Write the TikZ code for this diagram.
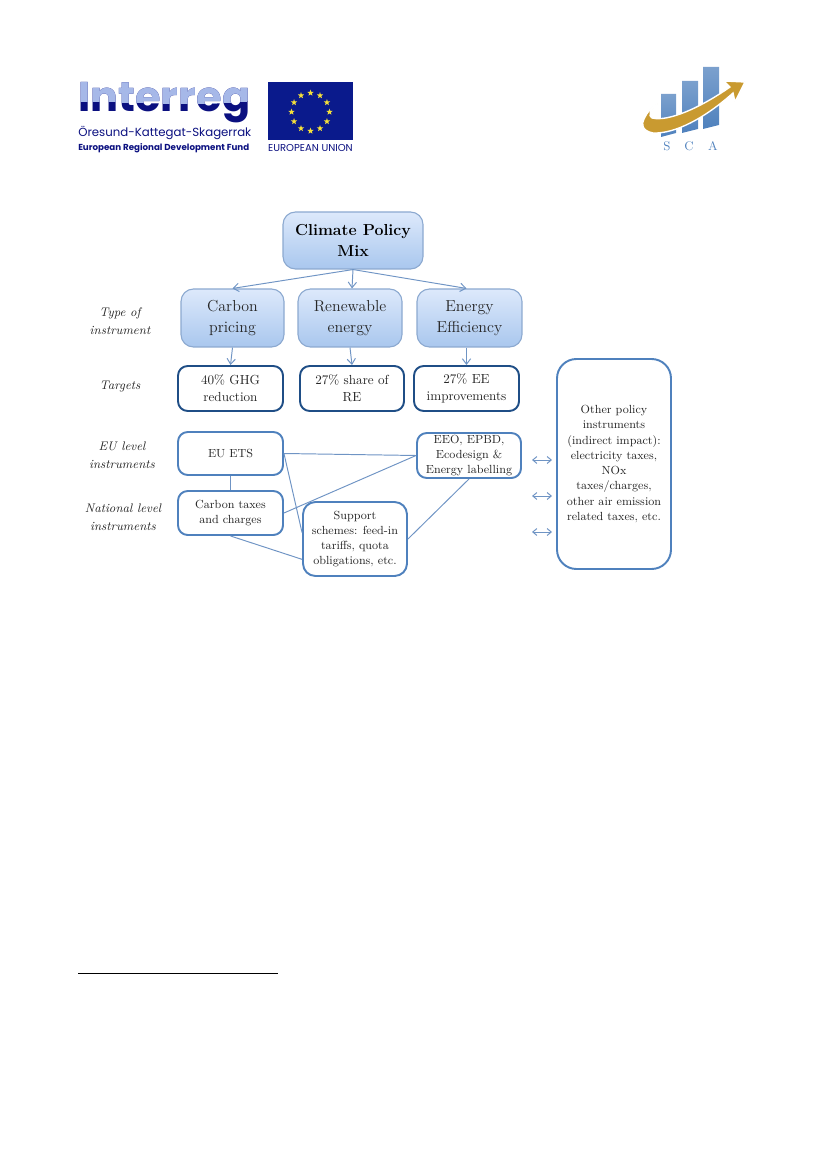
\documentclass[tikz,border=0pt]{standalone}
\usepackage{fontspec}
\usetikzlibrary{shapes.geometric,arrows.meta}
\newfontfamily\logofont{Poppins}
\definecolor{darkblue}{HTML}{0B1080}
\definecolor{lightblue}{HTML}{A6B8E8}
\definecolor{flagblue}{HTML}{0A1A8C}
\definecolor{flagstar}{HTML}{F5E03A}
\definecolor{goldswoosh}{HTML}{C99A30}
\definecolor{linkblue}{HTML}{6F94C4}
\definecolor{boxline}{HTML}{4F81BD}
\definecolor{targetline}{HTML}{1F4E86}
\definecolor{shadetop}{HTML}{DDE9FB}
\definecolor{shadebottom}{HTML}{A9C7EE}
\tikzset{
  boxsize/.style 2 args={minimum width=#1*0.254mm,minimum height=#2*0.254mm},
  typebox/.style={draw=linkblue!80,line width=0.8pt,rounded corners=9pt,top color=shadetop,bottom color=shadebottom,
    align=center,inner sep=0pt,text=black!85,font=\fontsize{11.5}{15}\selectfont},
  targetbox/.style={draw=targetline,line width=1.4pt,rounded corners=7pt,fill=white,align=center,inner sep=0pt,
    text=black!85,font=\fontsize{9.5}{12.4}\selectfont},
  levelbox/.style={draw=boxline,line width=1.4pt,rounded corners=7pt,fill=white,align=center,inner sep=0pt,
    text=black!85,font=\fontsize{8.5}{11}\selectfont},
  sidelabel/.style={align=center,font=\fontsize{9}{13}\selectfont\itshape,text=black!85},
  link/.style={draw=linkblue,line width=0.7pt},
  pointer/.style={link,->,>={Straight Barb[length=4pt,width=6pt]}},
  bothways/.style={link,<->,>={Straight Barb[length=3pt,width=5pt]}},
  flagstarnode/.style={star,star points=5,star point ratio=2.4,fill=flagstar,inner sep=0pt,minimum size=4.8pt},
}
\begin{document}
\begin{tikzpicture}[x=0.254mm,y=-0.254mm]
\useasboundingbox (0,0) rectangle (827,1169);
% interreg logo
\draw (78,103) node[anchor=west,inner sep=0pt,text=darkblue,font=\fontsize{30}{30}\logofont\bfseries] (interreg) {Interreg};
\begin{scope}
\clip (70,75) -- (260,75) -- (260,99) .. controls (210,108) and (130,100) .. (70,102) -- cycle;
\draw (78,103) node[anchor=west,inner sep=0pt,text=lightblue,font=\fontsize{30}{30}\logofont\bfseries] (interregtop) {Interreg};
\end{scope}
\draw (78,133) node[anchor=west,inner sep=0pt,text=darkblue,font=\fontsize{8.5}{9}\logofont] (oresund) {Öresund-Kattegat-Skagerrak};
\draw (78,148) node[anchor=west,inner sep=0pt,text=darkblue,font=\fontsize{6.3}{7}\logofont\bfseries] (erdf) {European Regional Development Fund};
% flag
\fill[flagblue] (268,82) rectangle (353,140);
\foreach \i in {1,...,12}
  \draw (310.5,112)+({\i*30}:19) node[flagstarnode] (flagstar\i) {};
\draw (310.5,148) node[inner sep=0pt,text=darkblue,font=\fontsize{7.25}{8}\logofont] (eulabel) {EUROPEAN UNION};
% sca logo
\shade[top color=boxline!75,bottom color=boxline] (661,94) -- (676,94) -- (676,133) -- (661,137) -- cycle;
\shade[top color=boxline!75,bottom color=boxline] (682,81) -- (698,81) -- (698,129) -- (682,133) -- cycle;
\shade[top color=boxline!75,bottom color=boxline] (703,67) -- (719,67) -- (719,125) -- (703,129) -- cycle;
\draw[white,line width=1pt,fill=goldswoosh] (657,104) .. controls (650,110) and (648,116) .. (652,118)
  .. controls (668,122) and (700,108) .. (730,87) -- (724,81) -- (745,82) -- (735,102) -- (733,93)
  .. controls (705,118) and (675,134) .. (653,133) .. controls (642,131) and (641,124) .. (644,119)
  .. controls (647,112) and (652,107) .. (657,104) -- cycle;
\draw (667,146) node[text=boxline,inner sep=0pt,font=\fontsize{9}{9}\selectfont] (scas) {S};
\draw (689,146) node[text=boxline,inner sep=0pt,font=\fontsize{9}{9}\selectfont] (scac) {C};
\draw (713,146) node[text=boxline,inner sep=0pt,font=\fontsize{9}{9}\selectfont] (scaa) {A};
% top boxes
\draw (353,240.5) node[typebox,boxsize={140}{57},text=black,font=\fontsize{11.5}{15.4}\selectfont\bfseries] (climate) {Climate Policy\\Mix};
\draw (232.5,318) node[typebox,boxsize={103}{58}] (carbon) {Carbon\\pricing};
\draw (350,318) node[typebox,boxsize={104}{58}] (renewable) {Renewable\\energy};
\draw (469.5,318) node[typebox,boxsize={105}{58}] (efficiency) {Energy\\Efficiency};
% targets
\draw (230.5,388.5) node[targetbox,boxsize={105}{45}] (ghg) {40\% GHG\\reduction};
\draw (352,388.5) node[targetbox,boxsize={104}{45}] (share) {27\% share of\\RE};
\draw (466.5,388.5) node[targetbox,boxsize={105}{45}] (improve) {27\% EE\\improvements};
% instruments
\draw (230.5,453.5) node[levelbox,boxsize={105}{43}] (ets) {EU ETS};
\draw (469,455.5) node[levelbox,boxsize={104}{45}] (eeo) {EEO, EPBD,\\Ecodesign \&\\Energy labelling};
\draw (230.5,513) node[levelbox,boxsize={105}{44}] (taxes) {Carbon taxes\\and charges};
\draw (355,539) node[levelbox,boxsize={104}{74},rounded corners=9pt] (support) {Support\\schemes: feed-in\\tariffs, quota\\obligations, etc.};
\draw (614,464) node[levelbox,boxsize={114}{210},rounded corners=14pt] (other) {Other policy\\instruments\\(indirect impact):\\electricity taxes,\\NOx\\taxes/charges,\\other air emission\\related taxes, etc.};
% row labels
\draw (120,321) node[sidelabel] (typelabel) {Type of\\instrument};
\draw (120,387) node[sidelabel] (targetlabel) {Targets};
\draw (122,455.5) node[sidelabel] (eulevel) {EU level\\instruments};
\draw (123,517) node[sidelabel] (natlevel) {National level\\instruments};
% arrows
\draw[pointer] (climate.south) -- (carbon.north);
\draw[pointer] (climate.south) -- (renewable.north -| share.north);
\draw[pointer] (climate.south) -- (efficiency.north -| improve.north);
\draw[pointer] (carbon.south) -- (ghg.north);
\draw[pointer] (renewable.south) -- (share.north);
\draw[pointer] (efficiency.south -| improve.south) -- (improve.north);
% links
\draw[link] (ets.south) -- (taxes.north);
\draw[link] (ets.east) -- (eeo.west);
\draw[link] (ets.east) -- (support.173);
\draw[link] (taxes.east) -- (eeo.west);
\draw[link] (taxes.south) -- (support.201);
\draw[link] (support.east) -- (eeo.south);
% double arrows
\coordinate (lefta) at (532,460);
\coordinate (righta) at (552,460);
\coordinate (leftb) at (532,496);
\coordinate (rightb) at (552,496);
\coordinate (leftc) at (532,532);
\coordinate (rightc) at (552,532);
\draw[bothways] (lefta) -- (righta);
\draw[bothways] (leftb) -- (rightb);
\draw[bothways] (leftc) -- (rightc);
% footnote rule
\coordinate (ruleleft) at (78,973);
\coordinate (ruleright) at (278,973);
\draw[black,line width=0.6pt] (ruleleft) -- (ruleright);
\end{tikzpicture}
\end{document}
